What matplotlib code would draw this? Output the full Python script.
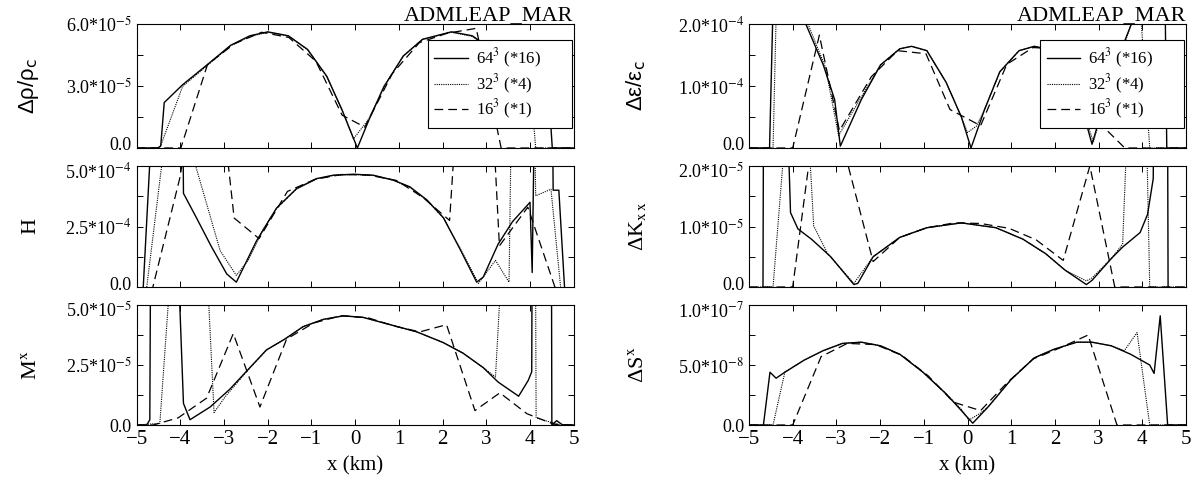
import numpy as np
import matplotlib
matplotlib.use('Agg')
from matplotlib import pyplot as plt
from matplotlib import transforms
from matplotlib.ticker import FixedLocator, MultipleLocator, FuncFormatter

plt.rcParams['font.family'] = ['Liberation Serif', 'DejaVu Serif']
plt.rcParams['mathtext.fontset'] = 'stix'
plt.rcParams['axes.linewidth'] = 0.8

# --- delta rho / rho_c (units 1e-5) ---
x_a64 = [-5.0, -4.52, -4.45, -4.37, -3.95, -3.38, -2.85, -2.41, -2.0, -1.53, -1.09, -0.65, -0.30, 0.05,
         0.31, 0.66, 1.10, 1.54, 2.2, 2.68, 3.1, 3.5, 3.85, 4.2, 4.35, 4.51, 5.0]
y_a64 = [0, 0, 0.1, 2.2, 3.06, 4.04, 4.97, 5.43, 5.62, 5.43, 4.77, 3.47, 1.83, 0.0,
         1.34, 2.97, 4.45, 5.26, 5.62, 5.43, 4.8, 3.9, 3.0, 2.2, 5.18, 0, 0]
x_a32 = [-5.0, -4.47, -3.95, -3.38, -2.85, -2.41, -2.0, -1.53, -1.09, -0.65, -0.30, -0.04,
         0.31, 0.66, 1.10, 1.54, 2.2, 2.68, 3.1, 3.5, 4.04, 4.13, 5.0]
y_a32 = [0, 0, 2.98, 4.0, 4.95, 5.4, 5.6, 5.42, 4.75, 3.45, 1.85, 0.44,
         1.4, 3.0, 4.45, 5.25, 5.6, 5.4, 4.75, 3.85, 2.32, 0, 0]
x_a16 = [-5.0, -3.99, -3.38, -2.76, -2.14, -1.52, -0.9, -0.30, 0.22, 0.85, 1.47, 2.1, 2.77, 3.34, 5.0]
y_a16 = [0, 0, 4.04, 5.05, 5.6, 5.35, 4.2, 1.59, 1.01, 3.6, 5.1, 5.55, 5.79, 0, 0]

# --- H (units 1e-4) ---
x_b64 = [-5.0, -4.85, -4.69, -4.3, -4.0, -3.93, -3.63, -3.3, -2.94, -2.72, -2.26, -1.80, -1.34, -0.88,
         -0.50, -0.04, 0.41, 0.87, 1.25, 1.64, 2.02, 2.40, 2.78, 2.93, 3.27, 3.6, 4.0, 4.05, 4.2,
         4.45, 4.53, 4.66, 4.79, 5.0]
y_b64 = [-3, 0, 5.5, 20, 20, 3.87, 2.85, 1.7, 0.54, 0.2, 1.9, 3.26, 4.07, 4.48,
         4.62, 4.66, 4.62, 4.42, 4.14, 3.60, 2.86, 1.56, 0.2, 0.41, 1.77, 2.7, 3.5, 0.6, 20,
         20, 4.0, 4.0, 0, -3]
x_b32 = [-5.0, -4.77, -4.43, -4.1, -3.65, -3.09, -2.72, -2.45, -2.1, -1.80, -1.34, -0.88, -0.50, -0.04,
         0.41, 0.87, 1.25, 1.64, 2.02, 2.40, 2.82, 3.21, 3.52, 3.83, 4.13, 4.48, 4.70, 5.0]
y_b32 = [-3, 0, 5.0, 15, 5.0, 1.5, 0.48, 1.1, 2.4, 3.25, 4.05, 4.47, 4.61, 4.65,
         4.61, 4.41, 4.12, 3.58, 2.85, 1.6, 0.15, 1.1, 0.2, 40, 3.77, 4.04, 0, -3]
x_b16 = [-5.0, -4.63, -4.0, -3.39, -2.77, -2.2, -1.55, -0.92, -0.3, 0.32, 0.95, 1.55, 2.16, 2.78,
         3.3, 3.95, 4.57, 5.0]
y_b16 = [-3, 0, 4.6, 13, 2.85, 2.0, 3.95, 4.45, 4.65, 4.62, 4.4, 3.7, 2.75, 20,
         1.7, 3.3, 0, -3]

# --- M^x (units 1e-5) ---
x_c64 = [-5.0, -4.77, -4.70, -4.6, -4.1, -4.02, -3.93, -3.78, -3.32, -2.87, -2.41, -2.03, -1.61, -1.19,
         -0.73, -0.27, 0.19, 0.80, 1.41, 2.02, 2.47, 2.93, 3.27, 3.74, 3.96, 4.04, 4.1, 4.45, 4.5,
         4.61, 4.75, 5.0]
y_c64 = [0, 0, 0.22, 40, 40, 5.3, 0.9, 0.22, 0.75, 1.49, 2.39, 3.13, 3.58, 4.1,
         4.40, 4.55, 4.48, 4.18, 3.88, 3.43, 2.99, 2.39, 1.79, 1.2, 1.86, 2.22, 40, 40, 0,
         0.18, 0, 0]
x_c32 = [-5.0, -4.47, -4.28, -3.8, -3.35, -3.23, -2.97, -2.41, -2.03, -1.61, -1.19, -0.73, -0.27, 0.19,
         0.80, 1.41, 2.02, 2.47, 2.93, 3.21, 3.30, 3.8, 4.13, 4.14, 4.35, 4.7, 5.0]
y_c32 = [0, 0.07, 5.0, 30, 5.0, 0.52, 1.19, 2.38, 3.12, 3.58, 4.1, 4.4, 4.55, 4.48,
         4.18, 3.88, 3.43, 2.99, 2.39, 2.0, 5.0, 30, 5.0, 0.3, 0.18, 0, 0]
x_c16 = [-5.0, -4.62, -4.05, -3.40, -2.79, -2.18, -1.57, -0.95, -0.33, 0.29, 0.9, 1.48, 2.09, 2.74,
         3.31, 3.93, 4.55, 5.0]
y_c16 = [0, 0, 0.3, 1.12, 3.81, 0.75, 3.58, 4.25, 4.55, 4.47, 4.12, 3.88, 4.18, 0.6,
         1.34, 0.47, 0.03, 0]

# --- delta eps / eps_c (units 1e-4) ---
x_d64 = [-5.0, -4.53, -4.45, -4.2, -3.95, -3.7, -3.3, -3.04, -2.91, -2.43, -1.99, -1.55, -1.28, -0.93,
         -0.49, -0.14, 0.08, 0.39, 0.74, 1.18, 1.53, 1.79, 2.1, 2.35, 2.6, 2.85, 3.2, 3.5, 3.75,
         4.0, 4.3, 4.52, 4.56, 5.0]
y_d64 = [0, 0, 2.3, 2.6, 2.4, 2.0, 1.34, 0.78, 0.03, 0.78, 1.34, 1.6, 1.64, 1.57,
         1.06, 0.5, 0.0, 0.62, 1.23, 1.57, 1.64, 1.6, 1.4, 1.1, 0.7, 0.06, 0.9, 1.55, 2.0,
         2.4, 2.6, 2.5, 0, 0]
x_d32 = [-5.0, -4.45, -4.38, -4.1, -3.85, -3.65, -3.25, -2.95, -2.45, -1.99, -1.55, -1.28, -0.93, -0.49,
         -0.14, 0.0, 0.2, 0.39, 0.74, 1.18, 1.53, 1.79, 2.1, 2.35, 2.6, 2.88, 3.2, 3.5, 3.75,
         3.95, 4.17, 5.0]
y_d32 = [0, 0, 2.1, 2.6, 2.4, 2.0, 1.3, 0.2, 0.8, 1.34, 1.6, 1.64, 1.57, 1.06,
         0.5, 0.25, 0.35, 0.62, 1.23, 1.57, 1.64, 1.6, 1.4, 1.1, 0.7, 0.1, 0.85, 1.5, 2.0,
         2.3, 0, 0]
x_d16 = [-5.0, -4.0, -3.39, -2.93, -2.2, -1.6, -0.95, -0.4, 0.3, 0.9, 1.5, 2.05, 2.67, 3.11, 3.6, 5.0]
y_d16 = [0, 0, 1.82, 0.28, 1.15, 1.57, 1.52, 0.62, 0.36, 1.35, 1.62, 1.6, 0.62, 0.34, 0, 0]

# --- delta K_xx (units 1e-5) ---
x_e64 = [-5.0, -4.70, -4.64, -4.3, -4.1, -4.05, -3.88, -3.57, -3.13, -2.6, -2.51, -2.16, -1.55, -0.93,
         -0.14, 0.65, 1.27, 1.79, 2.23, 2.72, 2.85, 3.29, 3.55, 3.95, 4.12, 4.25, 4.35, 4.55, 4.61, 5.0]
y_e64 = [-5, -5, 10, 10, 2.4, 1.23, 0.96, 0.79, 0.5, 0.04, 0.06, 0.5, 0.82, 0.98,
         1.06, 0.98, 0.79, 0.55, 0.28, 0.04, 0.11, 0.47, 0.66, 0.9, 1.2, 1.79, 10, 10, -5, -5]
x_e32 = [-5.0, -4.45, -4.23, -3.9, -3.52, -3.2, -2.6, -2.16, -1.55, -0.93, -0.14, 0.65, 1.27, 1.79,
         2.23, 2.72, 2.85, 3.29, 3.55, 3.62, 4.0, 4.17, 5.0]
y_e32 = [0, 0, 2.0, 6, 1.01, 0.55, 0.06, 0.5, 0.82, 0.98, 1.06, 0.98, 0.79, 0.55,
         0.28, 0.1, 0.15, 0.47, 0.71, 2.0, 6, 0, 0]
x_e16 = [-5.0, -4.0, -3.4, -2.78, -2.16, -1.55, -0.93, -0.3, 0.3, 0.95, 1.57, 2.19, 2.8, 3.37, 5.0]
y_e16 = [0, 0, 3.3, 2.14, 0.42, 0.82, 0.98, 1.06, 1.05, 0.97, 0.78, 0.44, 2.0, 0, 0]

# --- delta S^x (units 1e-7) ---
x_f64 = [-5.0, -4.67, -4.52, -4.38, -4.18, -3.74, -3.3, -2.86, -2.43, -1.99, -1.55, -1.02, -0.49, -0.14,
         0.12, 0.47, 1.0, 1.53, 1.97, 2.5, 2.85, 3.29, 3.73, 4.17, 4.27, 4.41, 4.58, 5.0]
y_f64 = [0, 0, 0.44, 0.39, 0.44, 0.54, 0.62, 0.68, 0.69, 0.66, 0.59, 0.44, 0.26, 0.12,
         0.015, 0.15, 0.38, 0.56, 0.63, 0.69, 0.69, 0.66, 0.59, 0.5, 0.43, 0.91, 0, 0]
x_f32 = [-5.0, -4.45, -4.18, -3.74, -3.3, -2.86, -2.43, -1.99, -1.55, -1.02, -0.49, -0.14, 0.03, 0.3,
         0.47, 1.0, 1.53, 1.97, 2.5, 2.85, 3.29, 3.59, 3.88, 4.17, 5.0]
y_f32 = [0, 0, 0.44, 0.54, 0.62, 0.68, 0.69, 0.66, 0.59, 0.44, 0.26, 0.13, 0.04, 0.1,
         0.15, 0.38, 0.56, 0.63, 0.69, 0.69, 0.66, 0.62, 0.77, 0, 0]
x_f16 = [-5.0, -4.0, -3.35, -2.75, -2.1, -1.5, -0.9, -0.32, 0.3, 0.9, 1.5, 2.1, 2.76, 3.42, 5.0]
y_f16 = [0, 0, 0.57, 0.68, 0.67, 0.58, 0.41, 0.19, 0.12, 0.35, 0.55, 0.64, 0.75, 0, 0]

legend_labels = [r'64$^3$ (*16)', r'32$^3$ (*4)', r'16$^3$ (*1)']

# panel: (column, row, ylabel, sans label?, top value, exponent, data)
panels = [
    (0, 0, r'Δρ/ρ$_\mathrm{c}$', True, 6.0, -5, (x_a64, y_a64, x_a32, y_a32, x_a16, y_a16)),
    (0, 1, 'H', False, 5.0, -4, (x_b64, y_b64, x_b32, y_b32, x_b16, y_b16)),
    (0, 2, r'M$^\mathrm{x}$', False, 5.0, -5, (x_c64, y_c64, x_c32, y_c32, x_c16, y_c16)),
    (1, 0, r'Δε/ε$_\mathrm{c}$', True, 2.0, -4, (x_d64, y_d64, x_d32, y_d32, x_d16, y_d16)),
    (1, 1, r'ΔK$_\mathrm{x\,x}$', False, 2.0, -5, (x_e64, y_e64, x_e32, y_e32, x_e16, y_e16)),
    (1, 2, r'ΔS$^\mathrm{x}$', False, 1.0, -7, (x_f64, y_f64, x_f32, y_f32, x_f16, y_f16)),
]

W, H = 1191, 491
fig = plt.figure(figsize=(W / 100, H / 100), dpi=100)

col_left = [136.7, 749.0]
col_width = 437.0
rows = [(24, 148), (166, 287), (305, 425)]


def sci_fmt(v, pos, step):
    if abs(v) < step * 1e-3:
        return '0.0'
    if round(v / step) % 2 == 1:
        return ''
    e = int(np.floor(np.log10(abs(v)) + 1e-9))
    m = v / 10.0 ** e
    return '%.1f*10$^{%d}$' % (m, e)


nudges = []
for col, row, ylab, sans, top, exp, d in panels:
    y0, y1 = rows[row]
    ax = fig.add_axes([col_left[col] / W, 1 - y1 / H, col_width / W, (y1 - y0) / H])
    s = 10.0 ** exp
    step = top * s / 4
    x64, v64, x32, v32, x16, v16 = d
    ax.plot(x64, np.array(v64) * s, color='black', lw=1.0, ls='-', label=legend_labels[0])
    ax.plot(x32, np.array(v32) * s, color='black', lw=0.8, ls=(0, (1, 1)), label=legend_labels[1])
    ax.plot(x16, np.array(v16) * s, color='black', lw=0.9, ls=(0, (7, 4)), label=legend_labels[2])
    ax.set_xlim(-5, 5)
    ax.set_ylim(0, top * s)
    ax.xaxis.set_major_locator(MultipleLocator(1))
    ax.yaxis.set_major_locator(FixedLocator([0, step, 2 * step, 3 * step, 4 * step]))
    ax.yaxis.set_major_formatter(FuncFormatter(lambda v, p, st=step: sci_fmt(v, p, st)))
    ax.tick_params(direction='in', top=True, right=True, length=4, width=0.7, labelsize=13)
    if row < 2:
        ax.tick_params(labelbottom=False)
    else:
        ax.set_xlabel('x (km)', fontsize=15, labelpad=5)
        ax.tick_params(axis='x', labelsize=15)
    if sans:
        ax.set_ylabel(ylab, fontsize=16, family=['Liberation Sans', 'DejaVu Sans'],
                      math_fontfamily='dejavusans')
    else:
        ax.set_ylabel(ylab, fontsize=16)
    ax.yaxis.set_label_coords(-0.22 if col == 0 else -0.23, 0.5)
    if row == 0:
        ax.text(1.0, 1.0 + 4.0 / (y1 - y0), 'ADMLEAP_MAR', transform=ax.transAxes,
                ha='right', va='baseline', fontsize=16)
        leg = ax.legend(loc='upper left', bbox_to_anchor=(0.666, 0.31, 0.33, 0.56), mode='expand',
                        fontsize=12, handlelength=2.0, handletextpad=0.5, labelspacing=0.15,
                        borderpad=0.4, borderaxespad=0.0, fancybox=False, framealpha=1,
                        edgecolor='black')
        leg.get_frame().set_linewidth(0.8)
    nudges.append((ax, row))

# the "0.0" of the upper panels and the top label of the lower panels sit very close:
# nudge them apart by a few pixels
fig.canvas.draw()
for ax, row in nudges:
    ticks = ax.yaxis.get_major_ticks()
    if row < 2:
        lab = ticks[0].label1
        lab.set_transform(lab.get_transform() + transforms.ScaledTranslation(0, 4 / 100, fig.dpi_scale_trans))
    if row > 0:
        lab = ticks[-1].label1
        lab.set_transform(lab.get_transform() + transforms.ScaledTranslation(0, -4 / 100, fig.dpi_scale_trans))

fig.savefig('out.png', dpi=100)
